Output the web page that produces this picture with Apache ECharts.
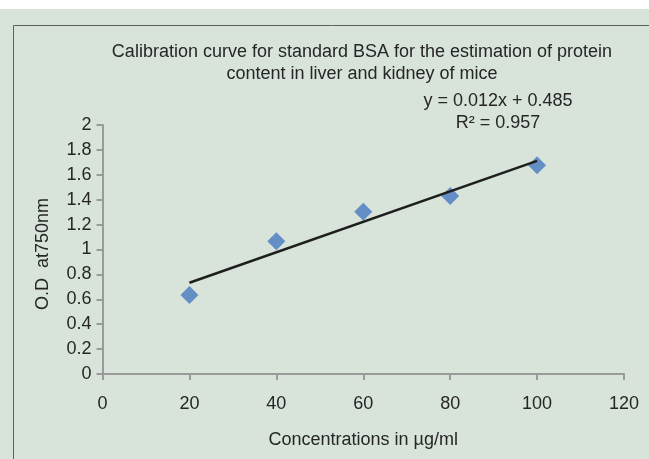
<!DOCTYPE html>
<html>
<head>
<meta charset="utf-8">
<script src="https://cdn.jsdelivr.net/npm/echarts@6/dist/echarts.min.js"></script>
<style>html,body{margin:0;padding:0;background:#fff;}#c{width:649px;height:459px;}</style>
</head>
<body>
<div id="c"></div>
<script>
var concentrations = [20, 40, 60, 80, 100];
var odValues = [0.635, 1.066, 1.304, 1.43, 1.676];
var xTicks = [0, 20, 40, 60, 80, 100, 120];
var yTicks = [0, 0.2, 0.4, 0.6, 0.8, 1, 1.2, 1.4, 1.6, 1.8, 2];
var titleLines = ['Calibration curve for standard BSA for the estimation of protein', 'content in liver and kidney of mice'];
var equationLines = ['y = 0.012x + 0.485', 'R\u00b2 = 0.957'];

// least-squares trendline from the data
var n = concentrations.length, mx = 0, my = 0;
for (var i = 0; i < n; i++) { mx += concentrations[i]; my += odValues[i]; }
mx /= n; my /= n;
var sxy = 0, sxx = 0;
for (var i = 0; i < n; i++) { sxy += (concentrations[i]-mx)*(odValues[i]-my); sxx += (concentrations[i]-mx)*(concentrations[i]-mx); }
var slope = sxy/sxx, intercept = my - slope*mx;
var xFirst = concentrations[0], xLast = concentrations[n-1];
var trend = [[xFirst, slope*xFirst+intercept], [xLast, slope*xLast+intercept]];

var FONT = '"Liberation Sans", Arial, sans-serif';
var TXT = '#262626';
var FS = 18;
var chart = echarts.init(document.getElementById('c'), null, {renderer: 'canvas'});
chart.setOption({
  backgroundColor: '#ffffff',
  animation: false,
  textStyle: {fontFamily: FONT},
  graphic: [
    {type: 'rect', z: -10, shape: {x: 0, y: 9, width: 649, height: 450}, style: {fill: '#d8e4da'}, silent: true},
    {type: 'polyline', z: -5, shape: {points: [[13.5, 459], [13.5, 25.5], [649, 25.5]]}, style: {stroke: '#5f5f5f', lineWidth: 1, fill: null}},
    {type: 'text', style: {
      text: equationLines.join('\n'), x: 498, y: 90, align: 'center', verticalAlign: 'top',
      font: FS + 'px ' + FONT, fill: TXT, lineHeight: 22
    }}
  ],
  title: {
    text: titleLines.join('\n'),
    left: 357, top: 36, textAlign: 'center',
    textStyle: {fontFamily: FONT, fontSize: FS, fontWeight: 'normal', color: TXT, lineHeight: 22}
  },
  grid: {left: 102.5, right: 25, top: 125, bottom: 85},
  xAxis: {
    type: 'value', min: xTicks[0], max: xTicks[xTicks.length-1], interval: xTicks[1]-xTicks[0],
    name: 'Concentrations in \u00b5g/ml', nameLocation: 'middle', nameGap: 57,
    nameTextStyle: {fontFamily: FONT, fontSize: FS, color: TXT},
    axisLine: {lineStyle: {color: '#9a9a9a', width: 2}},
    axisTick: {show: true, length: 6, lineStyle: {color: '#9a9a9a', width: 2}},
    axisLabel: {fontFamily: FONT, fontSize: FS, color: TXT, margin: 21},
    splitLine: {show: false}
  },
  yAxis: {
    type: 'value', min: yTicks[0], max: yTicks[yTicks.length-1], interval: yTicks[1]-yTicks[0],
    name: 'O.D  at750nm', nameLocation: 'middle', nameGap: 50, nameRotate: 90,
    nameTextStyle: {fontFamily: FONT, fontSize: FS, color: TXT, padding: [0, 9, 0, 0]},
    axisLine: {lineStyle: {color: '#9a9a9a', width: 2}},
    axisTick: {show: true, length: 6, lineStyle: {color: '#9a9a9a', width: 2}},
    axisLabel: {fontFamily: FONT, fontSize: FS, color: TXT, margin: 11,
      formatter: function(v){ return String(Math.round(v*10)/10); }},
    splitLine: {show: false}
  },
  series: [
    {type: 'scatter', data: concentrations.map(function(x,i){return [x, odValues[i]];}),
     symbol: 'diamond', symbolSize: [18, 18], itemStyle: {color: '#4679c0'}, z: 2},
    {type: 'line', data: trend, symbol: 'none', lineStyle: {color: '#1e1e1e', width: 2.5}, z: 3}
  ]
});
</script>
</body>
</html>
